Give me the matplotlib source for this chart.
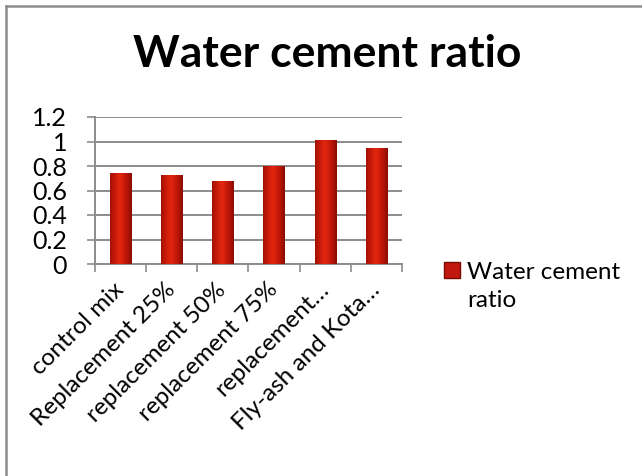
import matplotlib
matplotlib.use("Agg")
import matplotlib.pyplot as plt
import numpy as np
from matplotlib.lines import Line2D
from matplotlib.patches import Patch

categories = ["control mix", "Replacement 25%", "replacement 50%", "replacement 75%",
              "replacement…", "Fly-ash and Kota…"]
values = [0.74, 0.73, 0.68, 0.80, 1.01, 0.95]
yticks = [0, 0.2, 0.4, 0.6, 0.8, 1.0, 1.2]
ytick_labels = ["0", "0.2", "0.4", "0.6", "0.8", "1", "1.2"]
series_name = "Water cement ratio"
title = "Water cement ratio"

plt.rcParams['font.family'] = ['Lato', 'DejaVu Sans']

W, H = 642, 476
fig = plt.figure(figsize=(W/100, H/100), dpi=100)

# outer frame (top and left visible)
fig.add_artist(Line2D([6/W, 6/W], [0, 1 - 6/H], color='#8c8c8c', lw=1.8))
fig.add_artist(Line2D([6/W, 1], [1 - 6/H, 1 - 6/H], color='#8c8c8c', lw=1.8))

left, right = 95/W, 402/W
top, bottom = 1 - 117/H, 1 - 264/H
ax = fig.add_axes([left, bottom, right - left, top - bottom])

x = np.arange(len(categories))
bars = ax.bar(x, values, width=0.42, color='#c0180c', zorder=3, edgecolor='none')

# horizontal gradient in each bar
grad = np.linspace(0, 1, 64)
prof = 1 - np.abs(grad - 0.45) * 1.6
cmap = matplotlib.colors.LinearSegmentedColormap.from_list(
    'r', ['#7a0a04', '#bc1608', '#e3270f'])
img = np.tile(prof, (2, 1))
for b in bars:
    x0, y0 = b.get_x(), b.get_y()
    im = ax.imshow(img, extent=[x0, x0 + b.get_width(), y0, y0 + b.get_height()],
                   aspect='auto', cmap=cmap, vmin=0, vmax=1, zorder=3.5,
                   interpolation='bilinear')
    im.set_clip_path(b)

ax.set_xlim(-0.5, len(categories) - 0.5)
ax.set_ylim(0, 1.2)
ax.set_yticks(yticks)
ax.set_yticklabels(ytick_labels, fontsize=18)
ax.yaxis.grid(True, color='#8c8c8c', lw=1.4, zorder=0)
ax.set_axisbelow(True)

ax.set_xticks(x)
ax.set_xticklabels(categories, fontsize=17.5, rotation=45, ha='right',
                   va='center', rotation_mode='anchor')
ax.set_xticks(np.arange(-0.5, len(categories)), minor=True)
ax.tick_params(axis='x', which='major', length=0, pad=16)
ax.tick_params(axis='x', which='minor', length=6, color='#8c8c8c', width=1.2)
ax.tick_params(axis='y', length=6, color='#8c8c8c', width=1.2, pad=14)
for lab in ax.get_yticklabels():
    lab.set_horizontalalignment('right')

for s in ['top', 'right']:
    ax.spines[s].set_visible(False)
for s in ['left', 'bottom']:
    ax.spines[s].set_color('#8c8c8c')
    ax.spines[s].set_linewidth(1.4)

fig.text(327/W, 1 - 54/H, title, fontsize=32, fontweight='bold',
         ha='center', va='center')

handle = Patch(facecolor='#c0180c', edgecolor='#7a0a04')
leg = fig.legend([handle], ["Water cement\nratio"], loc='upper left',
                 bbox_to_anchor=(434/W, 1 - 252/H), frameon=False, fontsize=17.5,
                 handlelength=0.65, handleheight=0.65, handletextpad=0.3,
                 borderaxespad=0, labelspacing=0)
for t in leg.get_texts():
    t.set_linespacing(1.45)
h = leg.legend_handles[0]
h.set_y(h.get_y() + 12)

fig.savefig("out.png", dpi=100)
